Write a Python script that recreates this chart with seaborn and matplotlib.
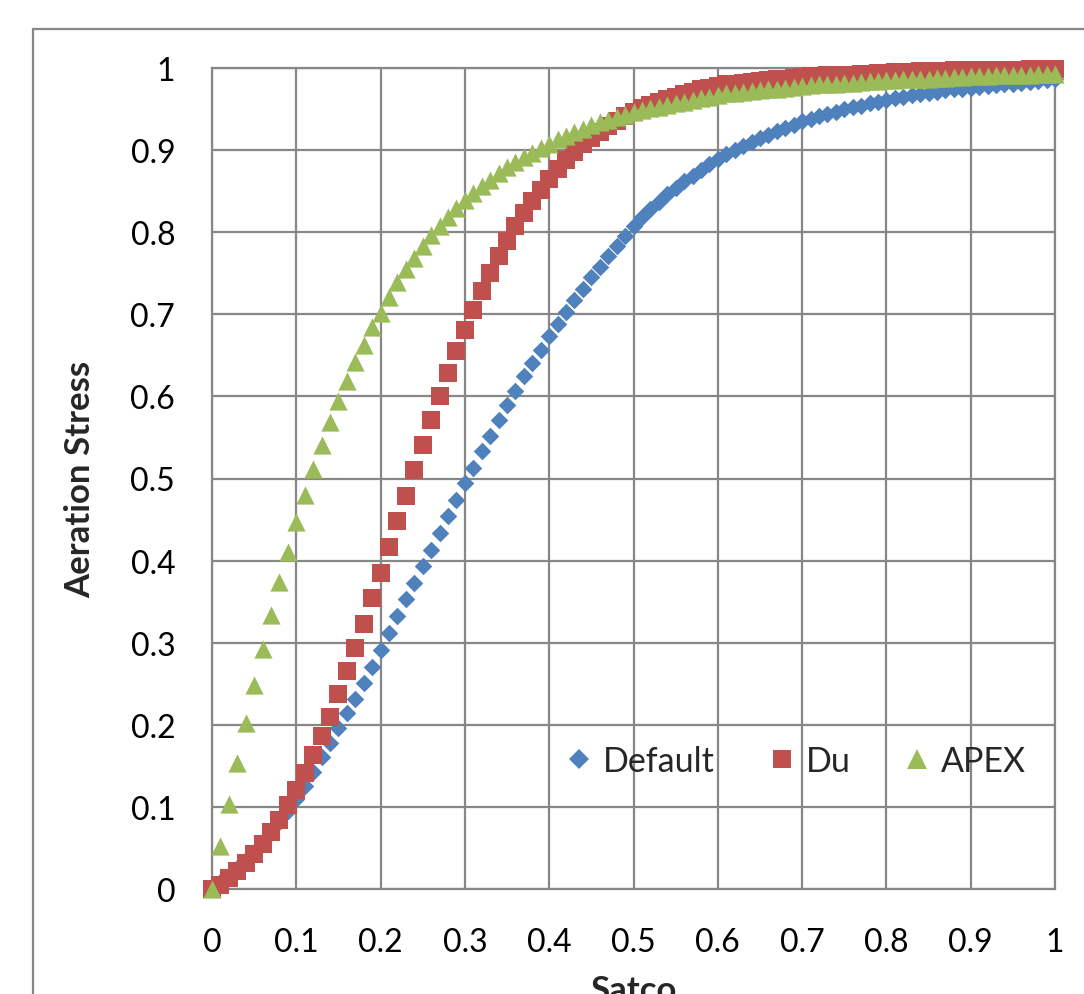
import matplotlib
matplotlib.use("Agg")
import matplotlib.pyplot as plt
from matplotlib.lines import Line2D
from matplotlib.patches import Rectangle
import seaborn as sns
import pandas as pd

# ---- data ----
satco = [0.00, 0.01, 0.02, 0.03, 0.04, 0.05, 0.06, 0.07, 0.08, 0.09,
         0.10, 0.11, 0.12, 0.13, 0.14, 0.15, 0.16, 0.17, 0.18, 0.19,
         0.20, 0.21, 0.22, 0.23, 0.24, 0.25, 0.26, 0.27, 0.28, 0.29,
         0.30, 0.31, 0.32, 0.33, 0.34, 0.35, 0.36, 0.37, 0.38, 0.39,
         0.40, 0.41, 0.42, 0.43, 0.44, 0.45, 0.46, 0.47, 0.48, 0.49,
         0.50, 0.51, 0.52, 0.53, 0.54, 0.55, 0.56, 0.57, 0.58, 0.59,
         0.60, 0.61, 0.62, 0.63, 0.64, 0.65, 0.66, 0.67, 0.68, 0.69,
         0.70, 0.71, 0.72, 0.73, 0.74, 0.75, 0.76, 0.77, 0.78, 0.79,
         0.80, 0.81, 0.82, 0.83, 0.84, 0.85, 0.86, 0.87, 0.88, 0.89,
         0.90, 0.91, 0.92, 0.93, 0.94, 0.95, 0.96, 0.97, 0.98, 0.99,
         1.00]

default_stress = [0.000, 0.008, 0.016, 0.025, 0.035, 0.045, 0.056, 0.068, 0.081, 0.095,
                  0.110, 0.126, 0.143, 0.161, 0.178, 0.196, 0.214, 0.232, 0.251, 0.271,
                  0.291, 0.312, 0.332, 0.353, 0.373, 0.393, 0.413, 0.434, 0.454, 0.474,
                  0.495, 0.513, 0.533, 0.552, 0.571, 0.589, 0.607, 0.625, 0.641, 0.657,
                  0.673, 0.688, 0.703, 0.717, 0.731, 0.745, 0.758, 0.771, 0.783, 0.795,
                  0.807, 0.818, 0.828, 0.837, 0.846, 0.854, 0.862, 0.869, 0.876, 0.883,
                  0.889, 0.895, 0.900, 0.905, 0.910, 0.915, 0.919, 0.923, 0.927, 0.931,
                  0.935, 0.938, 0.941, 0.944, 0.947, 0.950, 0.952, 0.954, 0.957, 0.959,
                  0.961, 0.963, 0.965, 0.967, 0.968, 0.970, 0.971, 0.973, 0.974, 0.975,
                  0.976, 0.977, 0.978, 0.979, 0.980, 0.981, 0.982, 0.983, 0.984, 0.985,
                  0.986]

du_stress = [0.000, 0.005, 0.013, 0.022, 0.032, 0.043, 0.055, 0.069, 0.084, 0.102,
             0.121, 0.141, 0.163, 0.186, 0.210, 0.237, 0.265, 0.294, 0.323, 0.354,
             0.385, 0.416, 0.448, 0.479, 0.510, 0.541, 0.571, 0.600, 0.628, 0.655,
             0.681, 0.705, 0.728, 0.750, 0.771, 0.789, 0.807, 0.823, 0.838, 0.852,
             0.865, 0.877, 0.888, 0.898, 0.907, 0.915, 0.922, 0.929, 0.935, 0.941,
             0.947, 0.951, 0.955, 0.959, 0.962, 0.965, 0.968, 0.971, 0.974, 0.976,
             0.978, 0.980, 0.981, 0.982, 0.983, 0.984, 0.985, 0.986, 0.987, 0.988,
             0.989, 0.990, 0.990, 0.991, 0.991, 0.992, 0.992, 0.993, 0.993, 0.994,
             0.994, 0.995, 0.995, 0.995, 0.996, 0.996, 0.996, 0.996, 0.997, 0.997,
             0.997, 0.997, 0.998, 0.998, 0.998, 0.998, 0.998, 0.999, 0.999, 0.999,
             0.999]

apex_stress = [0.000, 0.052, 0.104, 0.154, 0.202, 0.249, 0.292, 0.334, 0.374, 0.411,
               0.447, 0.480, 0.511, 0.541, 0.569, 0.594, 0.619, 0.642, 0.663, 0.684,
               0.702, 0.721, 0.739, 0.755, 0.769, 0.783, 0.796, 0.808, 0.819, 0.830,
               0.839, 0.848, 0.856, 0.864, 0.872, 0.879, 0.885, 0.891, 0.897, 0.903,
               0.908, 0.913, 0.917, 0.922, 0.926, 0.930, 0.934, 0.937, 0.940, 0.943,
               0.946, 0.949, 0.951, 0.953, 0.955, 0.957, 0.959, 0.961, 0.963, 0.965,
               0.967, 0.969, 0.970, 0.971, 0.972, 0.973, 0.974, 0.975, 0.976, 0.977,
               0.978, 0.979, 0.980, 0.980, 0.981, 0.982, 0.982, 0.983, 0.984, 0.984,
               0.985, 0.985, 0.986, 0.986, 0.987, 0.987, 0.988, 0.988, 0.989, 0.989,
               0.990, 0.990, 0.990, 0.991, 0.991, 0.992, 0.992, 0.992, 0.993, 0.993,
               0.993]

series_names = ["Default", "Du", "APEX"]
tick_values = [0, 0.1, 0.2, 0.3, 0.4, 0.5, 0.6, 0.7, 0.8, 0.9, 1]
tick_labels = ["0", "0.1", "0.2", "0.3", "0.4", "0.5", "0.6", "0.7", "0.8", "0.9", "1"]
x_title = "Satco"
y_title = "Aeration Stress"

# ---- style ----
sns.set_style("white")
plt.rcParams["font.family"] = ["Lato", "DejaVu Sans"]

colors = {"Default": "#4F81BD", "Du": "#C0504D", "APEX": "#9BBB59"}
markers = {"Default": "D", "Du": "s", "APEX": "^"}
sizes = {"Default": 80, "Du": 158, "APEX": 172}
grid_c = "#878787"

df = pd.concat([
    pd.DataFrame({"Satco": satco, "Stress": vals, "Series": name})
    for name, vals in zip(series_names, [default_stress, du_stress, apex_stress])
], ignore_index=True)

fig = plt.figure(figsize=(10.84, 9.95), dpi=100)
ax = fig.add_axes([212 / 1084, 105 / 995, 843 / 1084, 821 / 995])

for i, name in enumerate(series_names):
    sub = df[df["Series"] == name]
    sns.scatterplot(data=sub, x="Satco", y="Stress", ax=ax, marker=markers[name],
                    s=sizes[name], color=colors[name], linewidth=0,
                    clip_on=False, zorder=3 + i, legend=False)

ax.set_xlim(0, 1)
ax.set_ylim(0, 1)
ax.set_xticks(tick_values)
ax.set_xticklabels(tick_labels)
ax.set_yticks(tick_values)
ax.set_yticklabels(tick_labels)
ax.grid(True, color=grid_c, linewidth=1.6, zorder=0)
ax.set_axisbelow(True)
for sp in ax.spines.values():
    sp.set_color(grid_c)
    sp.set_linewidth(1.6)
ax.tick_params(axis="both", direction="out", length=9.5, width=1.6, color=grid_c,
               labelsize=23, labelcolor="black")
ax.tick_params(axis="y", pad=17)
ax.tick_params(axis="x", pad=18)

ax.set_xlabel(x_title, fontsize=25, fontweight="bold")
ax.set_ylabel(y_title, fontsize=25, fontweight="bold")
ax.xaxis.set_label_coords(0.5, -0.103)
ax.yaxis.set_label_coords(-0.137, 0.5)

handles = [Line2D([], [], marker="D", color=colors["Default"], linestyle="none",
                  markersize=10.2, markeredgewidth=0),
           Line2D([], [], marker="s", color=colors["Du"], linestyle="none",
                  markersize=12.7, markeredgewidth=0),
           Line2D([], [], marker="^", color=colors["APEX"], linestyle="none",
                  markersize=14.4, markeredgewidth=0)]
leg = ax.legend(handles, series_names, ncol=3, frameon=False, fontsize=24.5,
                loc="center left", bbox_to_anchor=(562 / 1084, (995 - 762) / 995),
                bbox_transform=fig.transFigure, borderaxespad=0, borderpad=0,
                handlelength=1.0, handletextpad=0.2, columnspacing=1.47)
leg.set_zorder(10)

fig.patches.append(Rectangle((33 / 1084, -0.2), 1.5, 0.2 + (995 - 30) / 995,
                             transform=fig.transFigure, fill=False,
                             edgecolor=grid_c, linewidth=1.6))

fig.savefig("out.png", dpi=100)
